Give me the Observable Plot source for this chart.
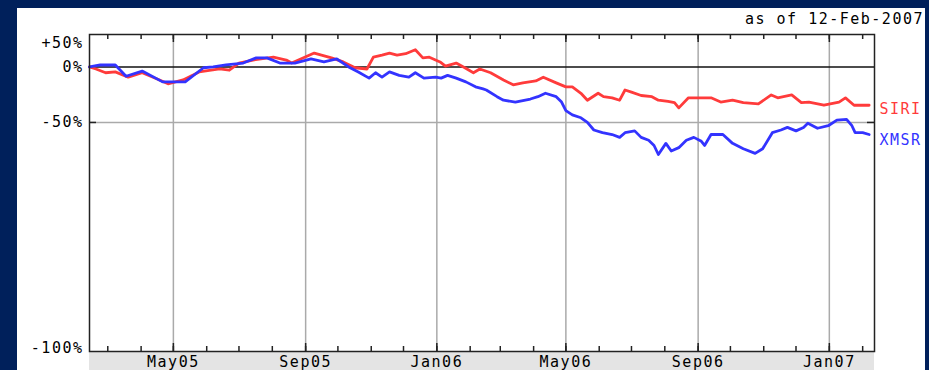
<!DOCTYPE html>
<html><head><meta charset="utf-8">
<script src="https://cdn.jsdelivr.net/npm/d3@7"></script>
<script src="https://cdn.jsdelivr.net/npm/@observablehq/plot@0.6"></script>
<style>
html,body{margin:0;padding:0;background:#00205b;width:929px;height:370px;overflow:hidden;}
#panel{position:absolute;left:17px;top:8px;width:908px;height:362px;background:#fff;}
#band{position:absolute;left:89px;top:351px;width:785px;height:19px;background:#e4e4e4;}
#asof{position:absolute;right:5px;top:10px;font:15px "DejaVu Sans Mono";letter-spacing:1.5px;color:#000;}
#chart{position:absolute;left:0;top:0;}
</style></head><body>
<div id="panel"></div><div id="band"></div><div id="asof">as of 12-Feb-2007</div><div id="chart"></div>
<script>
const seriesNames = ["SIRI", "XMSR"];
const seriesColors = ["#ff3b3b", "#3333ff"];

const siriDates = ["2005-02-12","2005-02-18","2005-02-27","2005-03-08","2005-03-20","2005-04-02","2005-04-16","2005-04-26","2005-05-10","2005-05-25","2005-06-13","2005-06-22","2005-07-01","2005-07-14","2005-08-02","2005-08-14","2005-08-19","2005-09-09","2005-09-25","2005-10-06","2005-10-17","2005-10-28","2005-11-03","2005-11-11","2005-11-18","2005-11-25","2005-12-03","2005-12-12","2005-12-19","2005-12-25","2006-01-04","2006-01-09","2006-01-19","2006-01-27","2006-02-04","2006-02-10","2006-02-20","2006-03-04","2006-03-13","2006-03-22","2006-04-03","2006-04-10","2006-04-22","2006-05-01","2006-05-07","2006-05-15","2006-05-21","2006-05-31","2006-06-05","2006-06-13","2006-06-20","2006-06-25","2006-07-01","2006-07-10","2006-07-20","2006-07-26","2006-08-04","2006-08-10","2006-08-14","2006-08-23","2006-09-13","2006-09-22","2006-10-03","2006-10-13","2006-10-27","2006-11-08","2006-11-14","2006-11-27","2006-12-06","2006-12-13","2006-12-27","2007-01-10","2007-01-16","2007-01-24","2007-02-07"];
const siriPct = [0,-2.5,-7,-6,-12,-7,-14,-19,-15,-6,-2.5,-4,5,9,13,9,5,19,12,6.5,-1,-2.5,13,16,19,16,18,24,12,13,6.5,1,5,-1,-7,-2.5,-7,-15,-20,-18,-16,-12,-18,-22,-22,-28,-34,-28,-31,-32,-34,-25,-27,-30,-31,-34,-35,-36,-40,-32,-32,-35.5,-34,-36,-37,-29.5,-32,-29.5,-36,-35.5,-38,-35.5,-32,-38,-38];

const xmsrDates = ["2005-02-12","2005-02-22","2005-03-08","2005-03-18","2005-04-02","2005-04-21","2005-05-12","2005-05-29","2005-06-07","2005-06-19","2005-07-05","2005-07-17","2005-07-27","2005-08-08","2005-08-22","2005-09-06","2005-09-18","2005-09-30","2005-10-11","2005-10-20","2005-10-30","2005-11-05","2005-11-11","2005-11-18","2005-11-27","2005-12-06","2005-12-12","2005-12-20","2005-12-31","2006-01-05","2006-01-11","2006-01-19","2006-01-28","2006-02-06","2006-02-13","2006-02-16","2006-02-26","2006-03-04","2006-03-15","2006-03-29","2006-04-05","2006-04-12","2006-04-22","2006-04-27","2006-05-01","2006-05-07","2006-05-15","2006-05-21","2006-05-27","2006-06-04","2006-06-13","2006-06-20","2006-06-25","2006-07-04","2006-07-10","2006-07-17","2006-07-22","2006-07-26","2006-08-02","2006-08-07","2006-08-14","2006-08-21","2006-08-28","2006-09-04","2006-09-07","2006-09-13","2006-09-24","2006-10-03","2006-10-13","2006-10-24","2006-10-31","2006-11-09","2006-11-17","2006-11-23","2006-12-01","2006-12-08","2006-12-12","2006-12-21","2006-12-31","2007-01-08","2007-01-17","2007-01-22","2007-01-25","2007-02-01","2007-02-07"];
const xmsrPct = [0,2.5,2.5,-11,-5,-17,-17,-1,0,2.5,5,12,12,5,5,10.5,6.5,10.5,0,-6,-13,-7,-12,-6,-10,-12,-7,-13,-12,-13,-10,-13,-17,-22,-24,-25,-31,-34,-35.5,-33,-31,-28,-31,-35.5,-42,-45,-47,-50,-54.5,-56,-57,-58.5,-56,-55,-58.5,-60,-62.5,-66.5,-61.5,-65,-63.5,-60,-58.5,-60.5,-62.5,-57,-57,-61.5,-64,-66,-64,-56,-54.5,-53,-55,-53,-50.5,-53.5,-52,-48.5,-48,-52,-56,-56,-57];

const labelPct = [-41, -60];

const xDomain = ["2005-02-12", "2007-02-12"];
const monthTickDates = ["2005-03-01","2005-04-01","2005-05-01","2005-06-01","2005-07-01","2005-08-01","2005-09-01","2005-10-01","2005-11-01","2005-12-01","2006-01-01","2006-02-01","2006-03-01","2006-04-01","2006-05-01","2006-06-01","2006-07-01","2006-08-01","2006-09-01","2006-10-01","2006-11-01","2006-12-01","2007-01-01","2007-02-01"];
const majorTickDates = ["2005-05-01","2005-09-01","2006-01-01","2006-05-01","2006-09-01","2007-01-01"];
const majorTickLabels = ["May05","Sep05","Jan06","May06","Sep06","Jan07"];

const yTickPct = [50, 0, -50, -100];
const yTickLabels = ["+50%", "0%", "-50%", "-100%"];
const yBottomRatio = 0.0286; // bottom of the log axis, labelled -100%

const parse = d3.utcParse("%Y-%m-%d");
const ratio = p => p <= -100 ? yBottomRatio : 1 + p / 100;

const rows = [
  ...siriDates.map((d, i) => ({date: parse(d), r: ratio(siriPct[i]), name: "SIRI"})),
  ...xmsrDates.map((d, i) => ({date: parse(d), r: ratio(xmsrPct[i]), name: "XMSR"}))
];
const labels = seriesNames.map((n, i) => ({name: n, r: ratio(labelPct[i]), date: parse(xDomain[1])}));
const months = monthTickDates.map(parse);
const majors = majorTickDates.map(parse);
const majorLabel = new Map(majors.map((d, i) => [+d, majorTickLabels[i]]));
const yLabel = new Map(yTickPct.map((p, i) => [ratio(p), yTickLabels[i]]));

const W = 929, H = 370, mL = 89, mR = 55, mT = 34, mB = 19;
const innerH = H - mT - mB;
const font = "DejaVu Sans Mono";
const axisText = {tickSize: 0, label: null, fontSize: 15, fill: "#000"};

const chart = Plot.plot({
  width: W, height: H,
  marginLeft: mL, marginRight: mR, marginTop: mT, marginBottom: mB,
  style: `background:transparent;font-family:'${font}';font-size:15px;letter-spacing:1.5px;overflow:visible;color:#000;`,
  x: {type: "utc", domain: xDomain.map(parse), label: null},
  y: {type: "log", domain: [yBottomRatio, ratio(50)], label: null},
  color: {domain: seriesNames, range: seriesColors},
  marks: [
    Plot.ruleX(majors, {stroke: "#aaaaaa", strokeWidth: 1.5}),
    Plot.ruleY([ratio(-50)], {stroke: "#aaaaaa", strokeWidth: 1.5}),
    Plot.ruleY([ratio(0)], {stroke: "#111", strokeWidth: 1.5}),
    Plot.tickX(months, {x: d => d, insetBottom: innerH - 5, stroke: "#222", strokeWidth: 1.5}),
    Plot.tickX(months, {x: d => d, insetTop: innerH - 5, stroke: "#222", strokeWidth: 1.5}),
    Plot.tickX(majors, {x: d => d, insetBottom: innerH - 8, stroke: "#222", strokeWidth: 1.5}),
    Plot.tickX(majors, {x: d => d, insetTop: innerH - 8, stroke: "#222", strokeWidth: 1.5}),
    Plot.tickY([ratio(-50)], {y: d => d, insetRight: W - mL - mR - 7, stroke: "#222", strokeWidth: 1.5}),
    Plot.tickY([ratio(-50)], {y: d => d, insetLeft: W - mL - mR - 7, stroke: "#222", strokeWidth: 1.5}),
    Plot.line(rows, {x: "date", y: "r", z: "name", stroke: "name", strokeWidth: 2.8}),
    Plot.frame({stroke: "#222", strokeWidth: 1.5}),
    Plot.axisX(majors, {...axisText, tickPadding: 5, tickFormat: d => majorLabel.get(+d)}),
    Plot.axisY([ratio(0), ratio(-50)], {...axisText, tickPadding: 6, tickFormat: d => yLabel.get(d)}),
    Plot.axisY([ratio(50)], {...axisText, tickPadding: 6, dy: 9, tickFormat: d => yLabel.get(d)}),
    Plot.axisY([yBottomRatio], {...axisText, tickPadding: 6, dy: -3, tickFormat: d => yLabel.get(d)}),
    Plot.text(labels, {x: "date", y: "r", text: "name", fill: "name", textAnchor: "start", dx: 5, fontSize: 15})
  ]
});
document.getElementById("chart").appendChild(chart);
</script></body></html>
